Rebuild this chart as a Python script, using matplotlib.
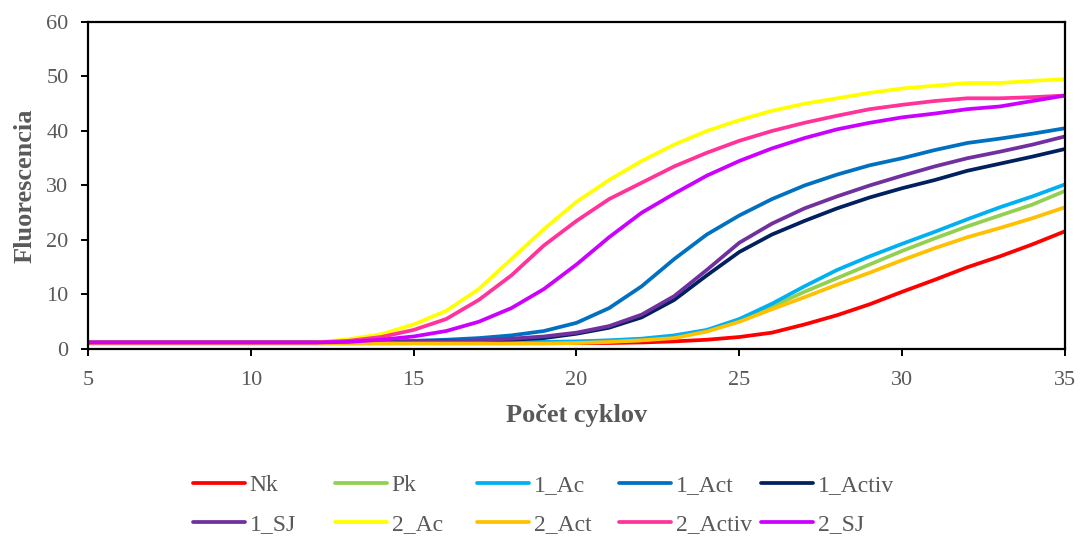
import matplotlib
matplotlib.use("Agg")
import matplotlib.pyplot as plt

plt.rcParams['font.family'] = ['Liberation Serif', 'DejaVu Serif']

cykly = list(range(5, 36))

# hodnoty odcitane z grafu, cyklus 5..35
base = [1.2] * 8  # cykly 5-12
nk = [1.1] * 17 + [1.2, 1.4, 1.7, 2.2, 3.0, 4.5, 6.2, 8.2, 10.5, 12.7, 15.0, 17.0, 19.2, 21.6]
pk = base + [1.2] * 7 + [1.3, 1.4, 1.6, 2.2, 3.3, 5.2, 7.8, 10.5, 13.0, 15.5, 18.0, 20.3,
                          22.5, 24.5, 26.5, 29.0]
ac1 = base + [1.2] * 5 + [1.3, 1.3, 1.4, 1.6, 1.9, 2.5, 3.5, 5.5, 8.3, 11.5, 14.5, 17.0, 19.3,
                          21.5, 23.8, 26.0, 28.0, 30.2]
act1 = base + [1.3, 1.4, 1.5, 1.7, 2.0, 2.5, 3.3, 4.8, 7.5, 11.5, 16.5, 21.0, 24.5, 27.5,
               30.0, 32.0, 33.7, 35.0, 36.5, 37.8, 38.6, 39.5, 40.5]
activ1 = base + [1.2, 1.2, 1.3, 1.4, 1.5, 1.7, 2.0, 2.8, 3.9, 5.8, 9.0, 13.5, 17.8, 21.0, 23.5,
                 25.8, 27.8, 29.5, 31.0, 32.7, 34.0, 35.3, 36.7]
sj1 = base + [1.2, 1.2, 1.3, 1.4, 1.6, 1.9, 2.3, 3.0, 4.2, 6.3, 9.7, 14.5, 19.5, 23.0, 25.8,
              28.0, 30.0, 31.8, 33.5, 35.0, 36.2, 37.5, 39.0]
ac2 = base + [1.8, 2.7, 4.5, 7.0, 11.0, 16.5, 22.0, 27.0, 31.0, 34.5, 37.5, 40.0, 42.0, 43.7,
              45.0, 46.0, 47.0, 47.8, 48.3, 48.8, 48.8, 49.2, 49.5]
act2 = [1.0] * 15 + [1.1, 1.3, 1.6, 2.0, 3.2, 5.0, 7.3, 9.5, 11.8, 14.0, 16.3, 18.5, 20.5,
                     22.2, 24.0, 26.0]
activ2 = base + [1.5, 2.2, 3.5, 5.5, 9.0, 13.5, 19.0, 23.5, 27.5, 30.5, 33.5, 36.0, 38.2, 40.0,
                 41.5, 42.8, 44.0, 44.8, 45.5, 46.0, 46.0, 46.2, 46.5]
sj2 = base + [1.3, 1.7, 2.3, 3.3, 5.0, 7.5, 11.0, 15.5, 20.5, 25.0, 28.5, 31.8, 34.5, 36.8,
              38.7, 40.3, 41.5, 42.5, 43.2, 44.0, 44.5, 45.5, 46.5]

serie = [
    ("Nk", nk, "#FF0000"),
    ("Pk", pk, "#92D050"),
    ("1_Ac", ac1, "#00B0F0"),
    ("1_Act", act1, "#0070C0"),
    ("1_Activ", activ1, "#002060"),
    ("1_SJ", sj1, "#7030A0"),
    ("2_Ac", ac2, "#FFFF00"),
    ("2_Act", act2, "#FFC000"),
    ("2_Activ", activ2, "#FF3399"),
    ("2_SJ", sj2, "#CC00FF"),
]
sediva = "#595959"

fig = plt.figure(figsize=(10.82, 5.4), dpi=100)
ax = fig.add_axes([0.0813, 0.3537, 0.903, 0.6056])

lines = {}
for nazov, y, farba in serie:
    ln, = ax.plot(cykly, y, color=farba, linewidth=2.7, label=nazov,
                  solid_capstyle="round", solid_joinstyle="round")
    lines[nazov] = ln

ax.set_xlim(5, 35)
ax.set_ylim(0, 60)
ax.set_xticks([5, 10, 15, 20, 25, 30, 35])
ax.set_yticks([0, 10, 20, 30, 40, 50, 60])
ax.tick_params(labelsize=16, colors="black", labelcolor=sediva, length=5, width=1.4,
               direction="out")
ax.tick_params(axis="x", pad=11)
ax.tick_params(axis="y", pad=9)
for s in ax.spines.values():
    s.set_linewidth(1.6)
    s.set_color("black")

ax.set_xlabel("Počet cyklov", fontsize=19, fontweight="bold", color=sediva, labelpad=10)
ax.set_ylabel("Fluorescencia", fontsize=19, fontweight="bold", color=sediva, labelpad=7)

# legenda: 5 stlpcov s rovnakou sirkou, ako v Exceli
stlpce = [("Nk", "1_SJ"), ("Pk", "2_Ac"), ("1_Ac", "2_Act"), ("1_Act", "2_Activ"),
          ("1_Activ", "2_SJ")]
x0, krok = 193, 142
for i, (horny, dolny) in enumerate(stlpce):
    fig.legend([lines[horny], lines[dolny]], [horny, dolny], loc="center left",
               bbox_to_anchor=((x0 + i * krok) / 1082, 1 - 505 / 540), frameon=False,
               fontsize=17, handlelength=2.2, handletextpad=0.2, labelspacing=0.75,
               borderpad=0, borderaxespad=0, labelcolor=sediva)

fig.savefig("out.png", dpi=100)
